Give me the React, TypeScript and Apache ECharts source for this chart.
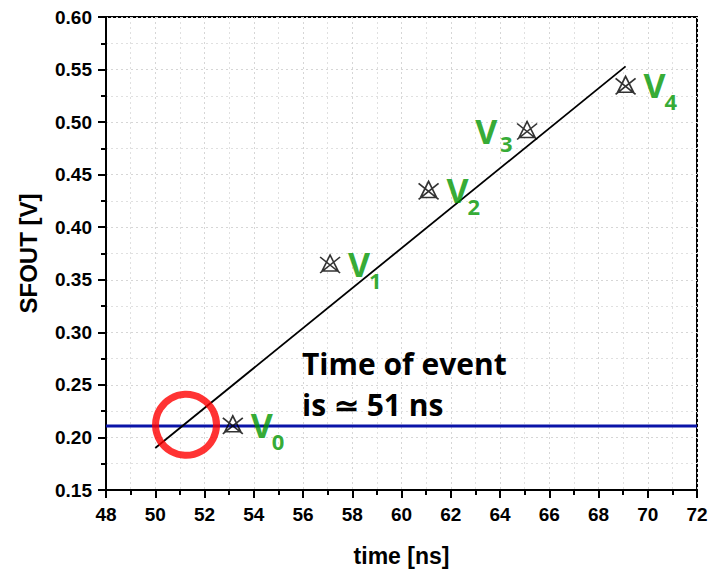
import React, { useEffect, useRef } from "react";
import * as echarts from "echarts";

const pointTimes = [53.15, 57.1, 61.1, 65.1, 69.1];
const pointVolts = [0.212, 0.365, 0.435, 0.492, 0.535];
const pointNames = ["0", "1", "2", "3", "4"];
const fitTimes = [50.0, 69.1];
const fitVolts = [0.19, 0.553];
const thresholdTimes = [48, 72];
const thresholdVolt = 0.211;
const eventPoint = [51.25, 0.212];

const GREEN = "#009600";
const MARKER =
  "path://M0,2 L20,18 M20,2 L0,18 M10,0 L18,16 L2,16 Z M10,0 L2,16";

export default function App() {
  const ref = useRef<HTMLDivElement>(null);
  useEffect(() => {
    if (!ref.current) return;
    const chart = echarts.init(ref.current, null, { renderer: "svg" });
    const axisFont = {
      fontFamily: "'Liberation Sans', Arial, sans-serif",
      fontWeight: "bold" as const,
      color: "#000",
    };
    const pts = pointTimes.map((t, i) => [t, pointVolts[i]]);
    const isLeft = (i: number) => i === 3;
    chart.setOption({
      animation: false,
      backgroundColor: "#fff",
      grid: {
        left: 106,
        right: 26,
        top: 17,
        bottom: 78,
        show: true,
        borderColor: "#000",
        borderWidth: 2,
      },
      xAxis: {
        type: "value",
        min: 48,
        max: 72,
        interval: 2,
        name: "time [ns]",
        nameLocation: "middle",
        nameGap: 54,
        nameTextStyle: { ...axisFont, fontSize: 23 },
        axisLine: { lineStyle: { color: "#000", width: 2 } },
        axisTick: { length: 8, lineStyle: { color: "#000", width: 2 } },
        minorTick: { show: true, splitNumber: 2, length: 5, lineStyle: { color: "#000", width: 2 } },
        axisLabel: { ...axisFont, fontSize: 19, margin: 15 },
        splitLine: { show: true, lineStyle: { color: "#d6d6d6", type: [2, 3], width: 1 } },
        minorSplitLine: { show: true, lineStyle: { color: "#e0e0e0", type: [2, 3], width: 1 } },
      },
      yAxis: {
        type: "value",
        min: 0.15,
        max: 0.6,
        interval: 0.05,
        name: "SFOUT [V]",
        nameLocation: "middle",
        nameGap: 66,
        nameTextStyle: { ...axisFont, fontSize: 24 },
        axisLine: { lineStyle: { color: "#000", width: 2 } },
        axisTick: { length: 8, lineStyle: { color: "#000", width: 2 } },
        minorTick: { show: true, splitNumber: 2, length: 5, lineStyle: { color: "#000", width: 2 } },
        axisLabel: {
          ...axisFont,
          fontSize: 19,
          margin: 14,
          formatter: (v: number) => v.toFixed(2),
        },
        splitLine: { show: true, lineStyle: { color: "#d6d6d6", type: [2, 3], width: 1 } },
        minorSplitLine: { show: true, lineStyle: { color: "#e0e0e0", type: [2, 3], width: 1 } },
      },
      series: [
        {
          type: "line",
          data: thresholdTimes.map((t) => [t, thresholdVolt]),
          symbol: "none",
          lineStyle: { color: "#0a14a8", width: 3 },
          z: 2,
        },
        {
          type: "line",
          data: fitTimes.map((t, i) => [t, fitVolts[i]]),
          symbol: "none",
          lineStyle: { color: "#000", width: 1.8 },
          z: 3,
        },
        {
          type: "scatter",
          data: pts,
          symbol: MARKER,
          symbolSize: [20, 18],
          itemStyle: { color: "transparent", borderColor: "#000", borderWidth: 1.6 },
          label: {
            show: true,
            formatter: () => "V",
            position: "right",
            distance: 7,
            color: GREEN,
            fontSize: 34,
            fontWeight: "bold",
            fontFamily: "'Open Sans', sans-serif",
          },
          labelLayout: (p: any) => {
            const i = p.dataIndex;
            if (isLeft(i)) {
              return { x: p.rect.x - 41, y: p.rect.y + p.rect.height / 2, align: "left", verticalAlign: "middle" };
            }
            return {};
          },
          z: 4,
        },
        {
          type: "scatter",
          data: pts,
          symbol: "circle",
          symbolSize: 1,
          itemStyle: { color: "transparent" },
          label: {
            show: true,
            formatter: (p: any) => pointNames[p.dataIndex],
            position: "right",
            distance: 0,
            color: GREEN,
            fontSize: 22,
            fontWeight: "bold",
            fontFamily: "'Open Sans', sans-serif",
          },
          labelLayout: (p: any) => {
            const i = p.dataIndex;
            const cx = p.rect.x + p.rect.width / 2;
            const cy = p.rect.y + p.rect.height / 2;
            if (isLeft(i)) {
              return { x: cx - 27, y: cy + 12, align: "left", verticalAlign: "middle" };
            }
            return { x: cx + 39, y: cy + 16, align: "left", verticalAlign: "middle" };
          },
          z: 4,
        },
        {
          type: "scatter",
          data: [eventPoint],
          symbol: "circle",
          symbolSize: 61,
          itemStyle: { color: "transparent", borderColor: "#ff0000", borderWidth: 7 },
          z: 5,
        },
      ],
      graphic: [
        {
          type: "text",
          left: 302,
          top: 343,
          style: {
            text: "Time of event\nis \u2243 51 ns",
            fill: "#000",
            font: "bold 30px 'Open Sans', sans-serif",
            lineHeight: 41,
          },
          z: 10,
        },
      ],
    });
    return () => chart.dispose();
  }, []);
  return <div ref={ref} style={{ width: 723, height: 572, position: "absolute", left: 0, top: 0 }} />;
}
